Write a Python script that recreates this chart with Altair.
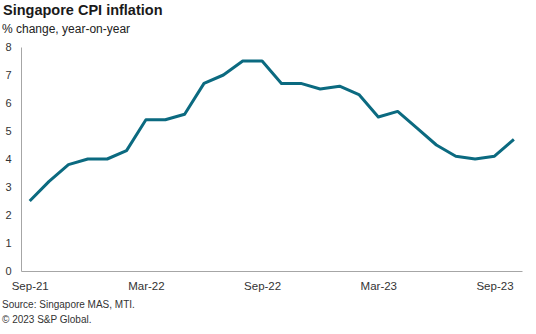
import altair as alt
import pandas as pd

months = ["Sep-21", "Oct-21", "Nov-21", "Dec-21", "Jan-22", "Feb-22", "Mar-22", "Apr-22",
          "May-22", "Jun-22", "Jul-22", "Aug-22", "Sep-22", "Oct-22", "Nov-22", "Dec-22",
          "Jan-23", "Feb-23", "Mar-23", "Apr-23", "May-23", "Jun-23", "Jul-23", "Aug-23",
          "Sep-23", "Oct-23"]
cpi = [2.5, 3.2, 3.8, 4.0, 4.0, 4.3, 5.4, 5.4, 5.6, 6.7, 7.0, 7.5, 7.5, 6.7, 6.7, 6.5,
       6.6, 6.3, 5.5, 5.7, 5.1, 4.5, 4.1, 4.0, 4.1, 4.7]
tick_idx = [0, 6, 12, 18, 24]

df = pd.DataFrame({"i": list(range(len(months))), "month": months, "cpi": cpi})

label_list = "[" + ",".join("'" + m + "'" for m in months) + "]"
FONT = "Liberation Sans"
W, H = 501, 224

line = alt.Chart(df).mark_line(color="#0b6a80", strokeWidth=3, strokeJoin="round", strokeCap="butt").encode(
    x=alt.X("i:Q", scale=alt.Scale(domain=[-0.45, 25.42], nice=False, zero=False),
            axis=alt.Axis(values=tick_idx, labelExpr=label_list + "[datum.value]", title=None,
                          grid=False, ticks=False, domainColor="#a6a6a6", domainWidth=1,
                          labelFont=FONT, labelFontSize=11.5, labelColor="#333333", labelPadding=9,
                          labelAlign="center", labelFlush=False)),
    y=alt.Y("cpi:Q", scale=alt.Scale(domain=[0, 8], nice=False),
            axis=alt.Axis(values=list(range(9)), title=None, grid=False, ticks=False,
                          domainColor="#a6a6a6", domainWidth=1, labelFont=FONT, labelFontSize=11,
                          labelColor="#333333", labelPadding=10, labelAlign="right")),
)

def txt(s, x, y, size, bold=False, color="#333333"):
    return alt.Chart(pd.DataFrame({"t": [s]})).mark_text(
        align="left", baseline="middle", font=FONT, fontSize=size,
        fontWeight="bold" if bold else "normal", color=color
    ).encode(text="t:N", x=alt.value(x), y=alt.value(y))

chart = alt.layer(
    line,
    txt("Singapore CPI inflation", -18, -36, 14.5, True, "#1a1a1a"),
    txt("% change, year-on-year", -19, -18, 12, False, "#222222"),
    txt("Source: Singapore MAS, MTI.", -19, 258, 10, False, "#333333"),
    txt("\u00a9 2023 S&P Global.", -19, 273, 10, False, "#333333"),
).properties(
    width=W, height=H,
    padding={"left": 21, "top": 47, "right": 14, "bottom": 63},
    autosize=alt.AutoSizeParams(type="none"),
    background="white",
).configure_view(stroke=None)

chart.save("out.html", embed_options={"renderer": "svg", "actions": False})
